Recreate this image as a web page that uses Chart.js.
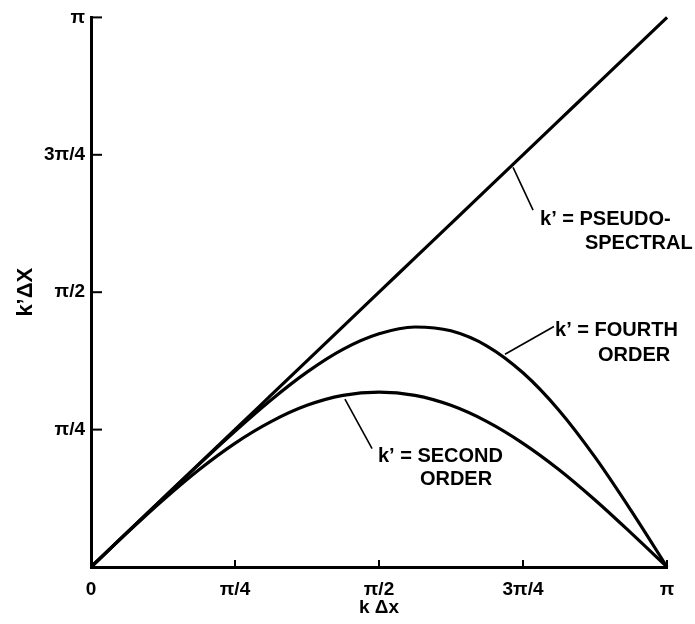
<!DOCTYPE html>
<html>
<head>
<meta charset="utf-8">
<style>
  html, body { margin: 0; padding: 0; background: #fff; }
  #wrap { width: 695px; height: 624px; }
</style>
<script src="https://cdn.jsdelivr.net/npm/chart.js@4.4.1/dist/chart.umd.min.js"></script>
</head>
<body>
<div id="wrap"><canvas id="c" width="695" height="624"></canvas></div>
<script>
// k Δx samples (radians), 0 .. π
const kDx = [0, 0.196, 0.393, 0.589, 0.785, 0.982, 1.178, 1.374, 1.571,
             1.767, 1.963, 2.160, 2.356, 2.553, 2.749, 2.945, 3.142];
// modified wavenumber k'Δx for each scheme
const pseudoSpectral = [0, 0.196, 0.393, 0.589, 0.785, 0.982, 1.178, 1.374, 1.571,
                        1.767, 1.963, 2.160, 2.356, 2.553, 2.749, 2.945, 3.142];
const fourthOrder = [0, 0.196, 0.392, 0.587, 0.776, 0.955, 1.114, 1.244, 1.333,
                     1.372, 1.350, 1.263, 1.110, 0.895, 0.628, 0.324, 0];
const secondOrder = [0, 0.195, 0.383, 0.556, 0.707, 0.831, 0.924, 0.981, 1.000,
                     0.981, 0.924, 0.831, 0.707, 0.556, 0.383, 0.195, 0];

// axis ticks
const tickValues = [0, Math.PI / 4, Math.PI / 2, 3 * Math.PI / 4, Math.PI];
const xTickLabels = ['0', 'π/4', 'π/2', '3π/4', 'π'];
const yTickLabels = ['', 'π/4', 'π/2', '3π/4', 'π'];

// curve call-outs: leader line [from, to] in data units, then text lines
const callouts = [
  { leader: [[2.302, 2.284], [2.411, 2.040]],
    lines: [{ t: 'k’ = PSEUDO-', at: [2.449, 1.954] }, { t: 'SPECTRAL', at: [2.694, 1.818] }] },
  { leader: [[2.258, 1.216], [2.525, 1.375]],
    lines: [{ t: 'k’ = FOURTH', at: [2.531, 1.318] }, { t: 'ORDER', at: [2.765, 1.176] }] },
  { leader: [[1.385, 0.960], [1.533, 0.676]],
    lines: [{ t: 'k’ = SECOND', at: [1.565, 0.602] }, { t: 'ORDER', at: [1.794, 0.466] }] }
];

const FONT = '"Liberation Sans", Arial, sans-serif';

function series(ys) {
  return kDx.map((x, i) => ({ x: x, y: ys[i] }));
}

function lineSet(ys) {
  return {
    data: series(ys),
    borderColor: '#000',
    borderWidth: 3.2,
    pointRadius: 0,
    cubicInterpolationMode: 'monotone',
    fill: false,
    clip: false
  };
}

// inward tick marks, leaders and call-out text
const decorations = {
  id: 'decorations',
  afterDatasetsDraw(chart) {
    const ctx = chart.ctx;
    const xs = chart.scales.x, ys = chart.scales.y;
    const a = chart.chartArea;
    ctx.save();
    ctx.strokeStyle = '#000';
    ctx.lineCap = 'butt';
    // y ticks point right into the plot
    ctx.lineWidth = 2;
    tickValues.slice(1).forEach(v => {
      const py = ys.getPixelForValue(v);
      ctx.beginPath();
      ctx.moveTo(a.left, py);
      ctx.lineTo(a.left + 11, py);
      ctx.stroke();
    });
    // x ticks point up into the plot
    tickValues.slice(1).forEach(v => {
      const px = xs.getPixelForValue(v);
      ctx.beginPath();
      ctx.moveTo(px, a.bottom);
      ctx.lineTo(px, a.bottom - 7);
      ctx.stroke();
    });
    // leaders and labels
    ctx.lineWidth = 1.6;
    ctx.fillStyle = '#000';
    ctx.font = 'bold 20px ' + FONT;
    ctx.textAlign = 'left';
    ctx.textBaseline = 'alphabetic';
    callouts.forEach(c => {
      const [p0, p1] = c.leader;
      ctx.beginPath();
      ctx.moveTo(xs.getPixelForValue(p0[0]), ys.getPixelForValue(p0[1]));
      ctx.lineTo(xs.getPixelForValue(p1[0]), ys.getPixelForValue(p1[1]));
      ctx.stroke();
      c.lines.forEach(l => {
        ctx.fillText(l.t, xs.getPixelForValue(l.at[0]), ys.getPixelForValue(l.at[1]));
      });
    });
    ctx.restore();
  }
};

new Chart(document.getElementById('c'), {
  type: 'line',
  data: {
    datasets: [lineSet(pseudoSpectral), lineSet(fourthOrder), lineSet(secondOrder)]
  },
  options: {
    responsive: false,
    animation: false,
    events: [],
    layout: { padding: { top: 14, right: 28, left: 0, bottom: 0 } },
    plugins: { legend: { display: false }, tooltip: { enabled: false } },
    scales: {
      x: {
        type: 'linear',
        min: 0,
        max: Math.PI,
        afterBuildTicks(scale) { scale.ticks = tickValues.map(v => ({ value: v })); },
        afterFit(scale) { scale.height = 57; },
        border: { display: true, color: '#000', width: 3 },
        grid: { display: false, drawTicks: false },
        ticks: {
          color: '#000',
          padding: 11,
          maxRotation: 0,
          autoSkip: false,
          font: { family: FONT, size: 19, weight: 'bold' },
          callback: (v, i) => xTickLabels[i]
        },
        title: {
          display: true,
          text: 'k Δx',
          color: '#000',
          font: { family: FONT, size: 19, weight: 'bold' },
          padding: { top: 0, bottom: 5 }
        }
      },
      y: {
        type: 'linear',
        min: 0,
        max: Math.PI,
        afterBuildTicks(scale) { scale.ticks = tickValues.map(v => ({ value: v })); },
        afterFit(scale) { scale.width = 91; },
        border: { display: true, color: '#000', width: 3 },
        grid: { display: false, drawTicks: false },
        ticks: {
          color: '#000',
          padding: 6,
          autoSkip: false,
          font: { family: FONT, size: 19, weight: 'bold' },
          callback: (v, i) => yTickLabels[i]
        },
        title: {
          display: true,
          text: 'k’ΔX',
          color: '#000',
          font: { family: FONT, size: 22, weight: 'bold' },
          padding: { top: 13, bottom: 0 }
        }
      }
    }
  },
  plugins: [decorations]
});
</script>
</body>
</html>
